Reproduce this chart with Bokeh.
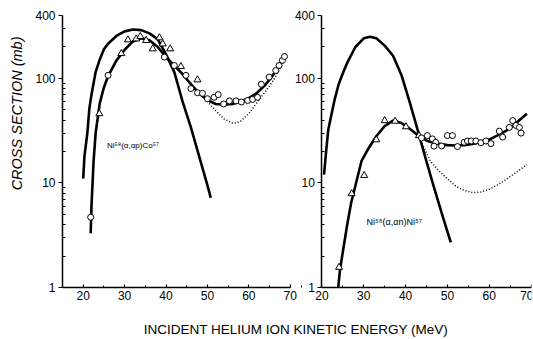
import math
from bokeh.plotting import figure
from bokeh.models import (Range1d, LogAxis, LinearAxis, FixedTicker, Label, Title,
                          NumeralTickFormatter)
from bokeh.embed import file_html
from bokeh.resources import INLINE

# ---------------- data ----------------
# Left panel: Ni58(a,ap)Co57
left_a_x = [20.0, 20.3, 21.0, 21.5, 22.0, 23.0, 24.0, 25.0, 26.0, 28.0, 30.0, 32.0, 34.0,
            36.0, 38.0, 40.0, 42.0, 44.0, 46.0, 48.0, 50.0, 50.8]
left_a_y = [11, 18, 30, 52, 70, 115, 152, 190, 215, 255, 282, 294, 290,
            270, 237, 170, 115, 60, 34, 18, 9.5, 7.2]

left_b_x = [21.8, 22.0, 22.5, 23.0, 24.0, 25.0, 26.0, 28.0, 30.0, 32.0, 34.0, 36.0, 38.0,
            40.0, 42.0, 44.0, 46.0, 48.0, 50.0, 52.0, 54.0, 56.0, 58.0, 60.0, 62.0, 64.0,
            66.0, 68.0, 69.0]
left_b_y = [3.3, 6, 16, 30, 58, 82, 105, 148, 188, 226, 242, 232, 200,
            160, 133, 110, 88, 72, 62, 57, 56, 57, 60, 65, 73, 87,
            110, 148, 172]

left_c_x = [48.5, 50.0, 52.0, 54.0, 56.0, 57.0, 58.0, 60.0, 62.0, 64.0, 66.0, 68.0, 69.0]
left_c_y = [70, 60, 49, 41, 37.5, 37.5, 39, 46, 59, 75, 97, 135, 165]

left_tri_x = [23.9, 29.2, 30.8, 32.8, 33.8, 35.2, 36.8, 38.4, 39.2, 41.0, 43.6, 47.6]
left_tri_y = [46, 173, 234, 239, 252, 231, 192, 245, 214, 192, 130, 97]

left_circ_x = [21.8, 26.0, 39.6, 42.0, 44.8, 46.0, 47.6, 48.8, 50.0, 51.6, 52.6, 53.9, 55.3,
               56.9, 58.2, 59.7, 60.9, 62.1, 63.0, 64.9, 66.5, 67.3, 68.1, 68.6]
left_circ_y = [4.7, 107, 160, 133, 107, 80, 73, 72, 64, 66, 70, 57, 61,
               61, 59.5, 61.5, 63, 66, 88, 103, 119, 133, 149, 162]

# Right panel: Ni58(a,an)Ni57
right_a_x = [20.5, 21.0, 21.5, 22.0, 23.0, 24.0, 25.0, 26.0, 28.0, 30.0, 31.5, 33.0, 35.0,
             37.0, 39.0, 41.0, 43.0, 45.0, 47.0, 49.0, 50.8]
right_a_y = [12, 20, 32, 40, 62, 88, 112, 140, 200, 242, 250, 242, 206,
             165, 108, 59, 31, 16, 8.5, 4.6, 2.7]

right_b_x = [23.9, 24.3, 25.0, 26.0, 27.0, 28.0, 29.5, 31.0, 33.0, 35.0, 37.0, 39.0, 41.0,
             43.0, 45.0, 47.0, 50.0, 52.0, 54.0, 56.0, 58.0, 60.0, 62.0, 64.0, 66.0, 68.0,
             69.0]
right_b_y = [1.0, 1.45, 2.2, 3.9, 6.5, 9.4, 16.4, 21, 28, 35, 39.5, 37.5, 33,
             28.5, 25.5, 24, 23, 22.8, 23, 23.6, 24.5, 26, 28.5, 31.5, 36, 42.5,
             46]

right_c_x = [43.0, 44.0, 46.0, 48.0, 50.0, 52.0, 54.0, 56.0, 58.0, 60.0, 62.0, 64.0, 66.0,
             68.0, 69.0]
right_c_y = [28.5, 23.5, 16, 13, 11, 9.3, 8.5, 8.1, 8.2, 8.7, 9.6, 10.8, 12.3,
             14.0, 15.0]

right_tri_x = [24.1, 27.1, 30.1, 33.0, 35.0, 37.5, 40.1, 43.2]
right_tri_y = [1.56, 7.9, 11.8, 25.9, 39.5, 39, 34.5, 28.4]

right_circ_x = [43.8, 45.2, 46.4, 47.2, 46.8, 48.6, 50.0, 51.2, 52.4, 54.0, 54.8, 55.7, 56.8,
                58.0, 59.2, 60.4, 62.4, 63.2, 64.8, 65.6, 66.4, 67.2, 67.6]
right_circ_y = [27, 28.4, 26.4, 24.5, 22.5, 22.6, 28.4, 28.4, 22.3, 24.5, 25.2, 25.2, 25.2,
                24.3, 25.2, 23.8, 31.3, 27.5, 34, 39.5, 35.5, 34, 30]

y_ticks = [1, 10, 100, 400]
y_minor = [2, 3, 4, 5, 6, 7, 8, 9, 20, 30, 40, 50, 60, 70, 80, 90, 200, 300]
x_ticks = [20, 30, 40, 50, 60, 70]
x_minor = [15, 25, 35, 45, 55, 65]

x_title = "INCIDENT HELIUM ION KINETIC ENERGY (MeV)"
y_title = "CROSS SECTION (mb)"
left_label = "Ni⁵⁸(α,αp)Co⁵⁷"
right_label = "Ni⁵⁸(α,αn)Ni⁵⁷"

# ---------------- figure ----------------
FONT = "Liberation Sans"
W, H = 533, 339
p = figure(width=W, height=H, x_range=Range1d(15, 128.25), y_range=Range1d(0.318, 556.8),
           y_axis_type="log", output_backend="svg", toolbar_location=None,
           min_border_left=61, min_border_right=2, min_border_top=0, min_border_bottom=0)
p.extra_x_ranges = {"r": Range1d(-42.02, 70.1)}
p.grid.visible = False
p.outline_line_color = None
p.background_fill_color = "white"
p.border_fill_color = "white"


def style_axis(ax, major_in, major_out, minor_in, minor_out):
    ax.axis_line_color = "black"
    ax.axis_line_width = 1.5
    ax.major_tick_line_color = "black"
    ax.minor_tick_line_color = "black"
    ax.major_tick_line_width = 1.2
    ax.minor_tick_line_width = 1
    ax.major_tick_in = major_in
    ax.major_tick_out = major_out
    ax.minor_tick_in = minor_in
    ax.minor_tick_out = minor_out
    ax.major_label_text_font = FONT
    ax.major_label_text_font_size = "12px"
    ax.major_label_text_color = "black"


# left y axis (default)
ly = p.yaxis[0]
ly.ticker = FixedTicker(ticks=y_ticks, minor_ticks=y_minor)
ly.formatter = NumeralTickFormatter(format="0")
ly.bounds = (1, 400)
ly.major_label_standoff = 3
style_axis(ly, 0, 4, 3, 0)

# left x axis (default), drawn at y = 1
lx = p.xaxis[0]
lx.ticker = FixedTicker(ticks=x_ticks, minor_ticks=x_minor)
lx.bounds = (15, 70)
lx.fixed_location = 1
lx.major_label_standoff = 4
style_axis(lx, 3, 0, 2, 0)

# right y axis, placed at x = 20 of the right range
ry = LogAxis(x_range_name="r", fixed_location=20, bounds=(1, 400),
             ticker=FixedTicker(ticks=y_ticks, minor_ticks=y_minor),
             formatter=NumeralTickFormatter(format="0"))
ry.major_label_standoff = 3
style_axis(ry, 0, 4, 3, 0)
p.add_layout(ry, "left")

# right x axis, placed at y = 1
rx = LinearAxis(x_range_name="r", fixed_location=1, bounds=(20, 70),
                ticker=FixedTicker(ticks=x_ticks, minor_ticks=x_minor))
rx.major_label_standoff = 4
style_axis(rx, 3, 0, 2, 0)
p.add_layout(rx, "below")

# ---------------- curves ----------------
p.line(left_a_x, left_a_y, line_color="black", line_width=2.6)
p.line(left_b_x, left_b_y, line_color="black", line_width=2.6)
p.line(left_c_x, left_c_y, line_color="black", line_width=1.5, line_dash="1 2")

p.line(right_a_x, right_a_y, line_color="black", line_width=2.6, x_range_name="r")
p.line(right_b_x, right_b_y, line_color="black", line_width=2.6, x_range_name="r")
p.line(right_c_x, right_c_y, line_color="black", line_width=1.5, line_dash="1 2",
       x_range_name="r")

# ---------------- markers ----------------
p.scatter(left_tri_x, left_tri_y, marker="triangle", size=7, fill_color="white",
          line_color="black", line_width=1)
p.scatter(left_circ_x, left_circ_y, marker="circle", size=6, fill_color="white",
          line_color="black", line_width=1)
p.scatter(right_tri_x, right_tri_y, marker="triangle", size=7, fill_color="white",
          line_color="black", line_width=1, x_range_name="r")
p.scatter(right_circ_x, right_circ_y, marker="circle", size=6, fill_color="white",
          line_color="black", line_width=1, x_range_name="r")

# ---------------- texts ----------------
p.add_layout(Label(x=32.0, y=22.8, text=left_label, text_font=FONT, text_font_size="8px",
                   text_align="center", text_baseline="middle", text_color="black"))
p.add_layout(Label(x=37.3, y=4.2, x_range_name="r", text=right_label, text_font=FONT,
                   text_font_size="9px", text_align="center", text_baseline="middle",
                   text_color="black"))

# x title (inside the frame, below the axes)
p.add_layout(Label(x=71.4, y=0.40, text=x_title, text_font=FONT, text_font_size="13.5px",
                   text_align="center", text_baseline="middle", text_color="black"))

# y title
yt = Title(text=y_title, align="right", offset=36, vertical_align="middle",
           text_font=FONT, text_font_size="14.5px", text_font_style="italic",
           text_color="black", standoff=14)
p.add_layout(yt, "left")

open("out.html", "w").write(file_html(p, INLINE))
